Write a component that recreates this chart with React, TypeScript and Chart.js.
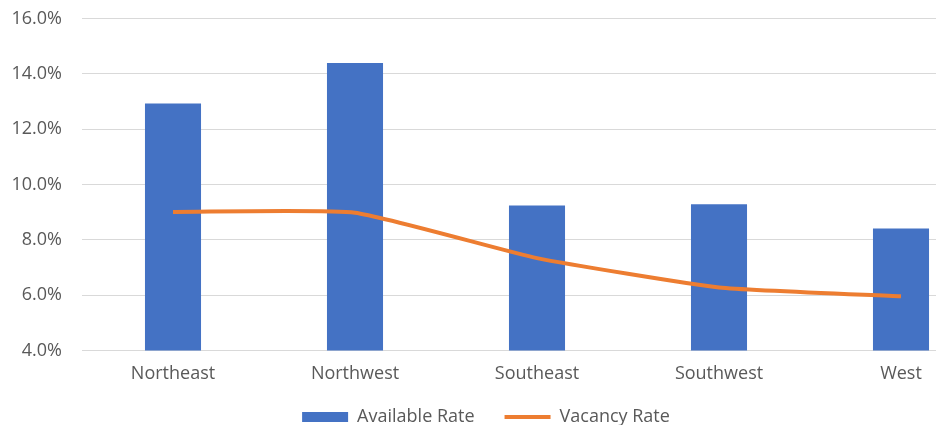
import { useEffect, useRef } from 'react';
import { Chart, registerables } from 'chart.js';

Chart.register(...registerables);

const categories = ['Northeast', 'Northwest', 'Southeast', 'Southwest', 'West'];
const availableRate = [12.93, 14.39, 9.24, 9.29, 8.41];
const vacancyRate = [9.01, 8.98, 7.34, 6.28, 5.96];
const yTicks = [4, 6, 8, 10, 12, 14, 16];

const BLUE = '#4472C4';
const ORANGE = '#ED7D31';
const TEXT = '#595959';
const FONT = '"Open Sans", "Noto Sans", sans-serif';

const legendShift = {
  id: 'legendShift',
  afterLayout(chart: any) {
    const lg = chart.legend;
    if (!lg) return;
    lg.top -= 22;
    lg.bottom -= 22;
    lg.left -= 10;
    lg.right -= 10;
  },
};

export default function App() {
  const canvasRef = useRef<HTMLCanvasElement | null>(null);

  useEffect(() => {
    document.body.style.margin = '0';
    const canvas = canvasRef.current;
    if (!canvas) return;
    const chart = new Chart(canvas, {
      type: 'bar',
      data: {
        labels: categories,
        datasets: [
          {
            type: 'line',
            label: 'Vacancy Rate',
            data: vacancyRate,
            borderColor: ORANGE,
            backgroundColor: ORANGE,
            borderWidth: 4,
            tension: 0.15,
            pointRadius: 0,
            pointHoverRadius: 0,
            pointStyle: 'line',
            pointBorderColor: ORANGE,
            pointBackgroundColor: ORANGE,
            pointBorderWidth: 4,
            order: 0,
          },
          {
            type: 'bar',
            label: 'Available Rate',
            data: availableRate,
            backgroundColor: BLUE,
            borderWidth: 0,
            pointStyle: 'rect',
            barPercentage: 1,
            categoryPercentage: 0.308,
            order: 1,
          },
        ],
      },
      options: {
        responsive: false,
        animation: false,
        layout: { padding: { top: 18.5, left: 0, right: 0, bottom: 0 } },
        scales: {
          x: {
            grid: { display: false },
            border: { display: false },
            ticks: {
              color: TEXT,
              font: { family: FONT, size: 18 },
              padding: 5,
              maxRotation: 0,
            },
            afterFit: (s: any) => {
              s.height = 49.5;
            },
          },
          y: {
            min: 4,
            max: 16,
            grid: {
              color: '#D9D9D9',
              lineWidth: 1,
              drawTicks: true,
              tickLength: 20,
              tickColor: 'rgba(0,0,0,0)',
            },
            border: { display: false },
            afterBuildTicks: (s: any) => {
              s.ticks = yTicks.map((v) => ({ value: v }));
            },
            ticks: {
              color: TEXT,
              font: { family: FONT, size: 18 },
              padding: 0,
              callback: (v: any) => Number(v).toFixed(1) + '%',
            },
            afterFit: (s: any) => {
              s.width = 82;
            },
          },
        },
        plugins: {
          legend: {
            position: 'bottom',
            reverse: true,
            labels: {
              usePointStyle: true,
              pointStyleWidth: 46,
              boxHeight: 10,
              padding: 30,
              color: TEXT,
              font: { family: FONT, size: 18 },
            },
          },
          tooltip: { enabled: false },
        },
      },
      plugins: [legendShift],
    });
    return () => chart.destroy();
  }, []);

  return (
    <div style={{ width: 936, height: 425, overflow: 'hidden', position: 'relative', background: '#fff' }}>
      <canvas ref={canvasRef} width={992} height={458} style={{ display: 'block' }} />
    </div>
  );
}
